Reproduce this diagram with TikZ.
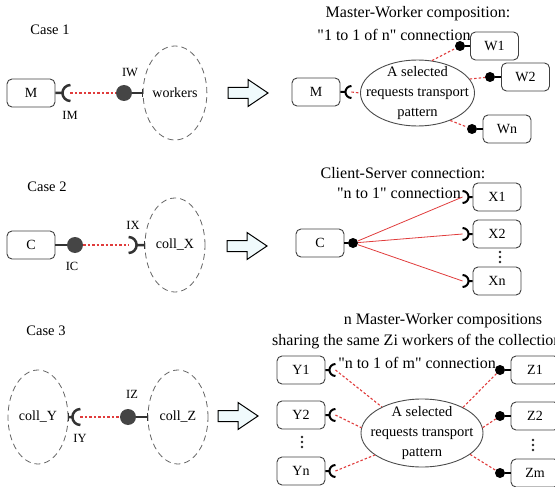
\documentclass[tikz,border=0pt]{standalone}
\usepackage{fontspec}
\setmainfont{Liberation Serif}[Ligatures=TeXOff]
\usetikzlibrary{shapes.geometric}

\definecolor{linkred}{HTML}{E03C3C}
\definecolor{ballgray}{HTML}{454545}
\definecolor{arrowfill}{HTML}{F0FAFC}

\tikzset{
  comp/.style={draw=black!75, line width=0.9pt, rounded corners=5pt, minimum width=48pt,
    minimum height=28pt, inner sep=0pt, font=\fontsize{14}{16}\selectfont},
  coll/.style={ellipse, draw=black!60, line width=0.8pt, dash pattern=on 6pt off 4pt,
    minimum width=60pt, minimum height=94pt, inner sep=0pt, font=\fontsize{14}{16}\selectfont},
  tpat/.style={ellipse, draw=black!70, line width=0.9pt, minimum width=114pt, minimum height=66pt,
    inner xsep=-13pt, inner ysep=-6pt, align=center, font=\fontsize{14.5}{20}\selectfont},
  ballL/.style={circle, fill=ballgray, minimum size=16pt, inner sep=0pt},
  ballS/.style={circle, fill=black, minimum size=10pt, inner sep=0pt},
  stub/.style={draw=black!80, line width=2.5pt},
  stubS/.style={draw=black, line width=2pt},
  tick/.style={draw=black!80, line width=1pt},
  link/.style={draw=linkred, line width=1.1pt, dash pattern=on 2.5pt off 2pt},
  wire/.style={draw=linkred, line width=0.8pt},
  casetxt/.style={font=\fontsize{14.5}{17}\selectfont},
  title/.style={font=\fontsize{16}{18}\selectfont},
  ifc/.style={font=\fontsize{12.5}{14}\selectfont},
  bigarrow/.style={draw=black, line width=1pt, fill=arrowfill, line join=miter},
}

\begin{document}
\begin{tikzpicture}[x=1pt, y=-1pt, line join=round]
\clip (0,0) rectangle (555,487);

% refinement arrows
\foreach \ax/\ay in {228/93, 227/246, 218/416}
  \draw[bigarrow] (\ax,\ay) ++(0,-5.5) -- ++(20,0) -- ++(0,-8) -- ++(20,13.5)
    -- ++(-20,13.5) -- ++(0,-8) -- ++(-20,0) -- cycle;

% "more of the same" dots
\foreach \dx/\dy in {500/252, 302/437, 533/440}
  \foreach \k in {0,5,10}
    \fill[black!85] (\dx,\dy+\k) circle (1.3);

%%% case 1
\node[casetxt] (case1) at (50,30) {Case 1};
\node[comp] (m) at (31,93) {M};
\node[coll] (workers) at (175,93) {workers};
\node[ballL] (bIW) at (124,93) {};
\draw[stub] (m.east) -- ++(7,0) ++(8,0) coordinate (sIM) ++(90:8) arc (90:270:8);
\draw[link] (sIM) -- (bIW);
\draw[stub] (bIW) -- (workers.west);
\draw[tick] (workers.west) ++(0,-4) -- ++(0,8);
\node[ifc] (lIM) at (70,115) {IM};
\node[ifc] (lIW) at (130,73) {IW};

\node[title] (t1a) at (418,14) {Master-Worker composition:};
\node[title] (t1b) at (394,35) {"1 to 1 of n" connection};
\node[comp] (m2) at (316,92) {M};
\node[tpat] (p1) at (417.5,93) {A selected\\requests transport\\pattern};
\node[comp] (w1) at (494.5,46) {W1};
\node[comp] (w2) at (525.5,77) {W2};
\node[comp] (wn) at (507,129) {Wn};
\node[ballS] (bw1) at (460,46) {};
\node[ballS] (bw2) at (490,77) {};
\node[ballS] (bwn) at (472,129) {};
\foreach \w in {1,2,n}
  \draw[stubS] (bw\w) -- (w\w);
\draw[stubS] (m2.east) -- ++(5,0) ++(6,0) coordinate (sm2) ++(90:6) arc (90:270:6);
\draw[link] (sm2) -- (p1.west);
\draw[link] (p1.66) -- (bw1);
\draw[link] (p1.15) -- (bw2);
\draw[link] (p1.-40) -- (bwn);

%%% case 2
\node[casetxt] (case2) at (47,187) {Case 2};
\node[comp] (c) at (31,245) {C};
\node[coll] (collX) at (175,245) {coll\_X};
\node[ballL] (bIC) at (75,245) {};
\draw[stub] (c) -- (bIC);
\draw[stub] (collX.west) -- ++(-8,0) ++(-8,0) coordinate (sIX) ++(-90:8) arc (-90:90:8);
\draw[tick] (collX.west) ++(0,-4) -- ++(0,8);
\draw[link] (bIC) -- (sIX);
\node[ifc] (lIC) at (72,266) {IC};
\node[ifc] (lIX) at (133,225) {IX};

\node[title] (t2a) at (403,173) {Client-Server connection:};
\node[title] (t2b) at (399,193) {"n to 1" connection};
\node[comp] (c2) at (320,243) {C};
\node[ballS] (bc2) at (353,243) {};
\draw[stubS] (c2) -- (bc2);
\node[comp] (x1) at (497,197) {X1};
\node[comp] (x2) at (497,234) {X2};
\node[comp] (xn) at (497,281) {Xn};
\foreach \x in {1,2,n} {
  \draw[stubS] (x\x.west) -- ++(-4,0) ++(-6,0) coordinate (sx\x) ++(-90:6) arc (-90:90:6);
  \draw[wire] (bc2) -- (sx\x);
}

%%% case 3
\node[casetxt] (case3) at (46,331) {Case 3};
\node[coll] (collY) at (38,417) {coll\_Y};
\node[coll] (collZ) at (178,417) {coll\_Z};
\node[ballL] (bIZ) at (128,417) {};
\draw[stub] (collY.east) -- ++(4,0) ++(8,0) coordinate (sIY) ++(90:8) arc (90:270:8);
\draw[tick] (collY.east) ++(0,-4) -- ++(0,8);
\draw[stub] (bIZ) -- (collZ.west);
\draw[tick] (collZ.west) ++(0,-4) -- ++(0,8);
\draw[link] (sIY) -- (bIZ);
\node[ifc] (lIY) at (80,438) {IY};
\node[ifc] (lIZ) at (132,394) {IZ};

\node[title] (t3a) at (443,321) {n Master-Worker compositions};
\node[title, anchor=west, inner sep=0pt] (t3b) at (272,342) {sharing the same Zi workers of the collection};
\node[title] (t3c) at (417,363) {"n to 1 of m" connection};
\node[tpat, minimum width=122pt, minimum height=68pt] (p3) at (422,433) {A selected\\requests transport\\pattern};
\node[comp] (y1) at (301,370) {Y1};
\node[comp] (y2) at (301,415) {Y2};
\node[comp] (yn) at (301,471) {Yn};
\node[comp] (z1) at (535,370) {Z1};
\node[comp] (z2) at (535,416) {Z2};
\node[comp] (zm) at (535,473) {Zm};
\foreach \y in {1,2,n}
  \draw[stubS] (y\y.east) -- ++(4,0) ++(6,0) coordinate (sy\y) ++(90:6) arc (90:270:6);
\foreach \z in {1,2,m} {
  \node[ballS] (bz\z) at (500,0 |- z\z) {};
  \draw[stubS] (bz\z) -- (z\z);
}
\draw[link] (sy1) -- (p3.147);
\draw[link] (sy2) -- (p3.175);
\draw[link] (syn) -- (p3.205);
\draw[link] (p3.32) -- (bz1);
\draw[link] (p3.5) -- (bz2);
\draw[link] (p3.-24) -- (bzm);
\end{tikzpicture}
\end{document}
